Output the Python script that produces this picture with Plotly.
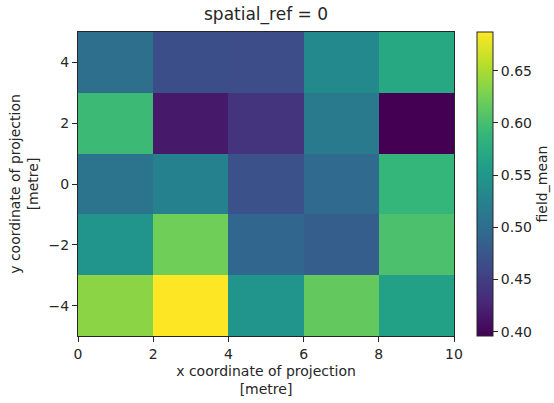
import plotly.graph_objects as go

# cell centres of the 5x5 grid (2 m spacing)
x_centres = [1, 3, 5, 7, 9]
y_centres = [-4, -2, 0, 2, 4]

# field_mean values, rows ordered by y (bottom to top)
field_mean = [
    [0.635, 0.687, 0.547, 0.616, 0.562],  # y = -4
    [0.547, 0.623, 0.492, 0.483, 0.603],  # y = -2
    [0.507, 0.524, 0.469, 0.496, 0.588],  # y = 0
    [0.594, 0.416, 0.440, 0.515, 0.396],  # y = 2
    [0.502, 0.466, 0.465, 0.533, 0.571],  # y = 4
]

x_ticks = [0, 2, 4, 6, 8, 10]
y_ticks = [-4, -2, 0, 2, 4]
y_ticktext = ["\u22124", "\u22122", "0", "2", "4"]
cbar_ticks = [0.40, 0.45, 0.50, 0.55, 0.60, 0.65]

FONT = "DejaVu Sans"
INK = "#262626"
LABEL_SIZE = 14
TITLE_SIZE = 17

fig = go.Figure(
    go.Heatmap(
        x=x_centres,
        y=y_centres,
        z=field_mean,
        colorscale="Viridis",
        zmin=0.396,
        zmax=0.687,
        colorbar=dict(
            title=dict(text="field_mean", side="right", font=dict(size=LABEL_SIZE, family=FONT, color=INK)),
            tickvals=cbar_ticks,
            ticktext=[f"{v:.2f}" for v in cbar_ticks],
            ticks="outside",
            ticklen=5,
            tickcolor=INK,
            tickfont=dict(size=LABEL_SIZE, family=FONT, color=INK),
            thickness=16,
            len=1.0,
            lenmode="fraction",
            y=0.5,
            yanchor="middle",
            x=1.061,
            xanchor="left",
            xpad=0,
            ypad=0,
            outlinewidth=1,
            outlinecolor=INK,
        ),
    )
)

axis_common = dict(
    showgrid=False,
    zeroline=False,
    showline=True,
    linecolor=INK,
    linewidth=1,
    mirror=True,
    ticks="outside",
    ticklen=5,
    tickcolor=INK,
    tickfont=dict(size=LABEL_SIZE, family=FONT, color=INK),
)

fig.update_xaxes(
    range=[0, 10],
    tickvals=x_ticks,
    ticktext=[str(v) for v in x_ticks],
    title=dict(text="x coordinate of projection<br>[metre]", font=dict(size=LABEL_SIZE, family=FONT, color=INK), standoff=5),
    **axis_common,
)
fig.update_yaxes(
    range=[-5, 5],
    tickvals=y_ticks,
    ticktext=y_ticktext,
    title=dict(text="y coordinate of projection<br>[metre]", font=dict(size=LABEL_SIZE, family=FONT, color=INK), standoff=6),
    **axis_common,
)

fig.update_layout(
    width=554,
    height=403,
    margin=dict(l=78, r=100, t=32, b=67, autoexpand=False),
    paper_bgcolor="white",
    plot_bgcolor="white",
    title=dict(
        text="spatial_ref = 0",
        x=0.5,
        xref="paper",
        xanchor="center",
        y=1 - 14 / 403,
        yanchor="middle",
        font=dict(size=TITLE_SIZE, family=FONT, color=INK),
    ),
    font=dict(family=FONT),
)

fig.write_html("out.html")
